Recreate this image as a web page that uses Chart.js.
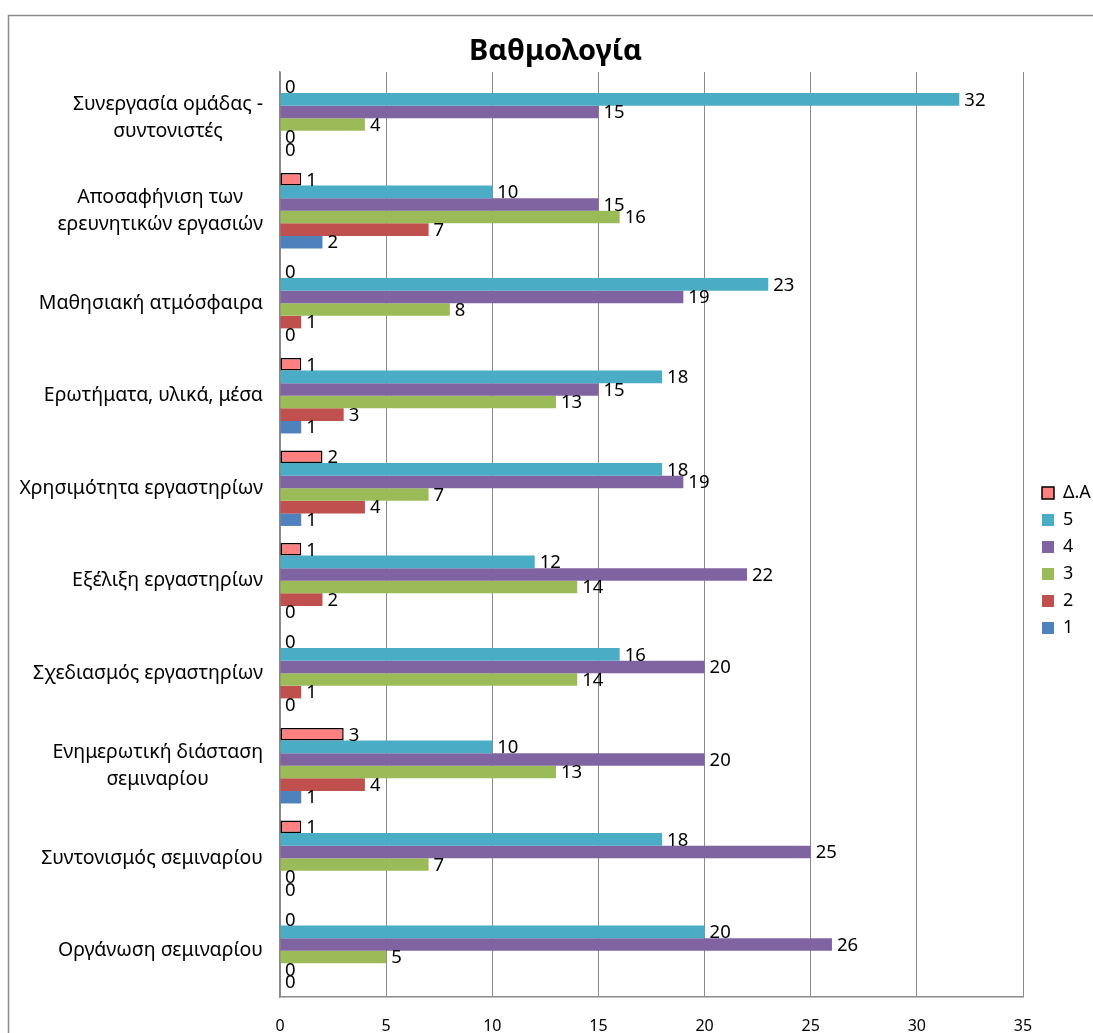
<!DOCTYPE html>
<html>
<head>
<meta charset="utf-8">
<script src="https://cdn.jsdelivr.net/npm/chart.js@4"></script>
<style>
  html, body { margin: 0; padding: 0; background: #ffffff; }
  #wrap { width: 1093px; height: 1033px; }
</style>
</head>
<body>
<div id="wrap"><canvas id="chart" width="1093" height="1033"></canvas></div>
<script>
// Survey categories (top to bottom)
const categories = [
  ["Συνεργασία ομάδας -", "συντονιστές"],
  ["Αποσαφήνιση των", "ερευνητικών εργασιών"],
  "Μαθησιακή ατμόσφαιρα",
  "Ερωτήματα, υλικά, μέσα",
  "Χρησιμότητα εργαστηρίων",
  "Εξέλιξη εργαστηρίων",
  "Σχεδιασμός εργαστηρίων",
  ["Ενημερωτική διάσταση", "σεμιναρίου"],
  "Συντονισμός σεμιναρίου",
  "Οργάνωση σεμιναρίου"
];

// Number of answers per rating
const seriesNames = ["Δ.Α", "5", "4", "3", "2", "1"];
const valuesDA = [0, 1, 0, 1, 2, 1, 0, 3, 1, 0];
const values5  = [32, 10, 23, 18, 18, 12, 16, 10, 18, 20];
const values4  = [15, 15, 19, 15, 19, 22, 20, 20, 25, 26];
const values3  = [4, 16, 8, 13, 7, 14, 14, 13, 7, 5];
const values2  = [0, 7, 1, 3, 4, 2, 1, 4, 0, 0];
const values1  = [0, 2, 0, 1, 1, 0, 0, 1, 0, 0];

const xTicks = [0, 5, 10, 15, 20, 25, 30, 35];

const FONT = "'Noto Sans', 'DejaVu Sans', sans-serif";
const GRID = "#8a8a8a";

const colors = ["#FF8080", "#4BACC6", "#8064A2", "#9BBB59", "#C0504D", "#4F81BD"];
const seriesValues = [valuesDA, values5, values4, values3, values2, values1];

const datasets = seriesNames.map((name, i) => ({
  label: name,
  data: seriesValues[i],
  backgroundColor: colors[i],
  borderColor: i === 0 ? "#000000" : colors[i],
  borderWidth: i === 0 ? 1.5 : 0,
  borderSkipped: false,
  categoryPercentage: 0.815,
  barPercentage: 1.0
}));

// Outer chart frame
const framePlugin = {
  id: "frame",
  beforeDraw(chart) {
    const ctx = chart.ctx;
    ctx.save();
    ctx.fillStyle = "#ffffff";
    ctx.fillRect(0, 0, chart.width, chart.height);
    ctx.strokeStyle = "#8c8c8c";
    ctx.lineWidth = 1.5;
    ctx.strokeRect(8.5, 15.5, chart.width + 20, chart.height + 20);
    ctx.restore();
  }
};

// Category labels: block right-aligned, lines centred inside the block
const categoryLabelPlugin = {
  id: "categoryLabels",
  afterDraw(chart) {
    const ctx = chart.ctx;
    const yScale = chart.scales.y;
    const right = chart.chartArea.left - 17;
    const lineGap = 27;
    ctx.save();
    ctx.font = "19.5px " + FONT;
    ctx.fillStyle = "#000000";
    ctx.textBaseline = "middle";
    ctx.textAlign = "center";
    categories.forEach((label, i) => {
      const lines = Array.isArray(label) ? label : [label];
      const widths = lines.map(l => ctx.measureText(l).width);
      const block = Math.max(...widths);
      const cx = right - block / 2;
      const cy = yScale.getPixelForValue(i);
      const top = cy - (lines.length - 1) * lineGap / 2;
      lines.forEach((l, k) => ctx.fillText(l, cx, top + k * lineGap));
    });
    ctx.restore();
  }
};

// Value labels at the end of each bar
const valueLabelPlugin = {
  id: "valueLabels",
  afterDatasetsDraw(chart) {
    const ctx = chart.ctx;
    ctx.save();
    ctx.font = "18.5px " + FONT;
    ctx.fillStyle = "#000000";
    ctx.textBaseline = "middle";
    ctx.textAlign = "left";
    chart.data.datasets.forEach((ds, di) => {
      const meta = chart.getDatasetMeta(di);
      meta.data.forEach((bar, j) => {
        const v = ds.data[j];
        ctx.fillText(String(v), bar.x + 5, bar.y + 1);
      });
    });
    ctx.restore();
  }
};

// Legend: fixed width column to the right of the plot
const LEGEND_WIDTH = 70;
const legendPlacement = {
  id: "legendPlacement",
  beforeLayout(chart) {
    const lg = chart.legend;
    if (lg && !lg._fixedWidth) {
      const fit = lg.fit.bind(lg);
      lg.fit = function () { fit(); this.width = LEGEND_WIDTH; };
      lg._fixedWidth = true;
    }
  },
  afterUpdate(chart) {
    const lg = chart.legend;
    if (!lg) return;
    lg.left += 10; lg.right += 10;
    lg.top += 44; lg.bottom += 44;
  }
};

new Chart(document.getElementById("chart"), {
  type: "bar",
  data: { labels: categories, datasets },
  options: {
    indexAxis: "y",
    responsive: false,
    devicePixelRatio: 1,
    animation: false,
    layout: { padding: { left: 18, right: 0, top: 0, bottom: 0 } },
    scales: {
      x: {
        min: 0,
        max: 35,
        afterBuildTicks(scale) { scale.ticks = xTicks.map(v => ({ value: v })); },
        afterFit(scale) { scale.height = 36; },
        grid: { color: GRID, lineWidth: 1, drawTicks: false },
        border: { color: GRID, width: 1.5 },
        ticks: {
          padding: 20,
          color: "#000000",
          font: { family: FONT, size: 16 }
        }
      },
      y: {
        afterFit(scale) { scale.width = 262; },
        grid: { display: false, drawTicks: false },
        border: { color: GRID, width: 1.5 },
        ticks: { display: false }
      }
    },
    plugins: {
      title: {
        display: true,
        text: "Βαθμολογία",
        color: "#000000",
        font: { family: FONT, size: 29, weight: "bold", lineHeight: 1.2 },
        padding: { top: 34.5, bottom: 2.7 }
      },
      legend: {
        position: "right",
        align: "center",
        labels: {
          boxWidth: 12,
          boxHeight: 12,
          padding: 9,
          color: "#000000",
          font: { family: FONT, size: 18 }
        }
      },
      tooltip: { enabled: false }
    }
  },
  plugins: [framePlugin, categoryLabelPlugin, valueLabelPlugin, legendPlacement]
});
</script>
</body>
</html>
